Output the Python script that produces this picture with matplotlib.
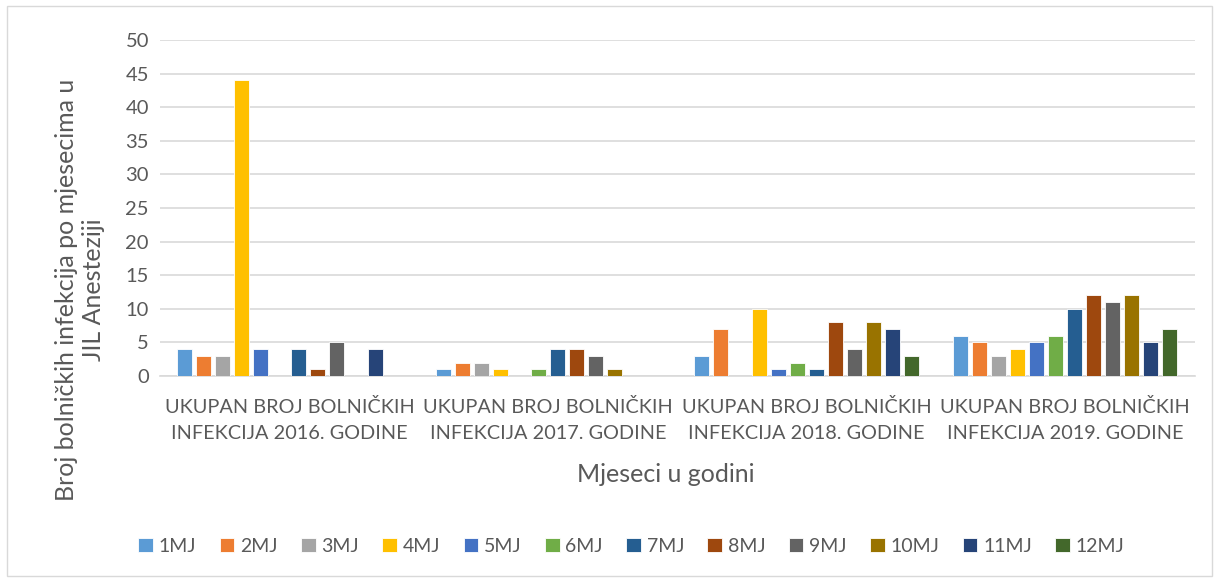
import matplotlib
matplotlib.use("Agg")
import matplotlib.pyplot as plt
import numpy as np
from matplotlib.patches import Rectangle

categories = ["UKUPAN BROJ BOLNIČKIH\nINFEKCIJA 2016. GODINE",
              "UKUPAN BROJ BOLNIČKIH\nINFEKCIJA 2017. GODINE",
              "UKUPAN BROJ BOLNIČKIH\nINFEKCIJA 2018. GODINE",
              "UKUPAN BROJ BOLNIČKIH\nINFEKCIJA 2019. GODINE"]
series_names = ["1MJ", "2MJ", "3MJ", "4MJ", "5MJ", "6MJ", "7MJ", "8MJ", "9MJ", "10MJ", "11MJ", "12MJ"]
m1 = [4, 1, 3, 6]
m2 = [3, 2, 7, 5]
m3 = [3, 2, 0, 3]
m4 = [44, 1, 10, 4]
m5 = [4, 0, 1, 5]
m6 = [0, 1, 2, 6]
m7 = [4, 4, 1, 10]
m8 = [1, 4, 8, 12]
m9 = [5, 3, 4, 11]
m10 = [0, 1, 8, 12]
m11 = [4, 0, 7, 5]
m12 = [0, 0, 3, 7]
series = [m1, m2, m3, m4, m5, m6, m7, m8, m9, m10, m11, m12]
colors = ["#5B9BD5", "#ED7D31", "#A5A5A5", "#FFC000", "#4472C4", "#70AD47",
          "#255E91", "#9E480E", "#636363", "#997300", "#264478", "#43682B"]

plt.rcParams['font.family'] = ['Lato', 'DejaVu Sans']
fig = plt.figure(figsize=(12.19, 5.78), dpi=100)
ax = fig.add_axes([0.1313, 0.3495, 0.8487, 0.5813])

x = np.arange(len(categories))
slot = 0.0736
width = 0.058
for i, (vals, c, name) in enumerate(zip(series, colors, series_names)):
    offs = (i - 5.5) * slot
    ax.bar(x + offs, vals, width=width, color=c, edgecolor='white', linewidth=0.6, label=name, zorder=3)

ax.set_xlim(-0.5, 3.5)
ax.set_ylim(0, 50)
ax.set_yticks(np.arange(0, 51, 5))
ax.set_xticks(x)
ax.set_xticklabels(categories, fontsize=14.3, color='#595959', linespacing=1.6)
ax.tick_params(axis='y', labelsize=14.5, colors='#595959', length=0, pad=8)
ax.tick_params(axis='x', length=0, pad=16)
ax.grid(axis='y', color='#d9d9d9', linewidth=1.2, zorder=0)
for s in ['top', 'right', 'left']:
    ax.spines[s].set_visible(False)
ax.spines['bottom'].set_color('#d9d9d9')
ax.spines['bottom'].set_linewidth(1.2)

fig.text(0.5465, (578 - 475) / 578, "Mjeseci u godini", fontsize=18, color='#595959',
         ha='center', va='center')
fig.text(80 / 1219, (578 - 290) / 578, "Broj bolničkih infekcija po mjesecima u\nJIL Anesteziji",
         fontsize=18, color='#595959', rotation=90, ha='center', va='center',
         multialignment='center', linespacing=1.25)

leg = fig.legend(loc='center', bbox_to_anchor=(0.518, 0.055), ncol=12, frameon=False,
                 fontsize=14, handlelength=0.75, handleheight=0.75, handletextpad=0.3,
                 columnspacing=1.2, labelcolor='#595959')

fig.patches.append(Rectangle((0.006, 0.004), 0.988, 0.985, transform=fig.transFigure,
                             fill=False, edgecolor='#d9d9d9', linewidth=1))

fig.savefig("out.png", dpi=100)
